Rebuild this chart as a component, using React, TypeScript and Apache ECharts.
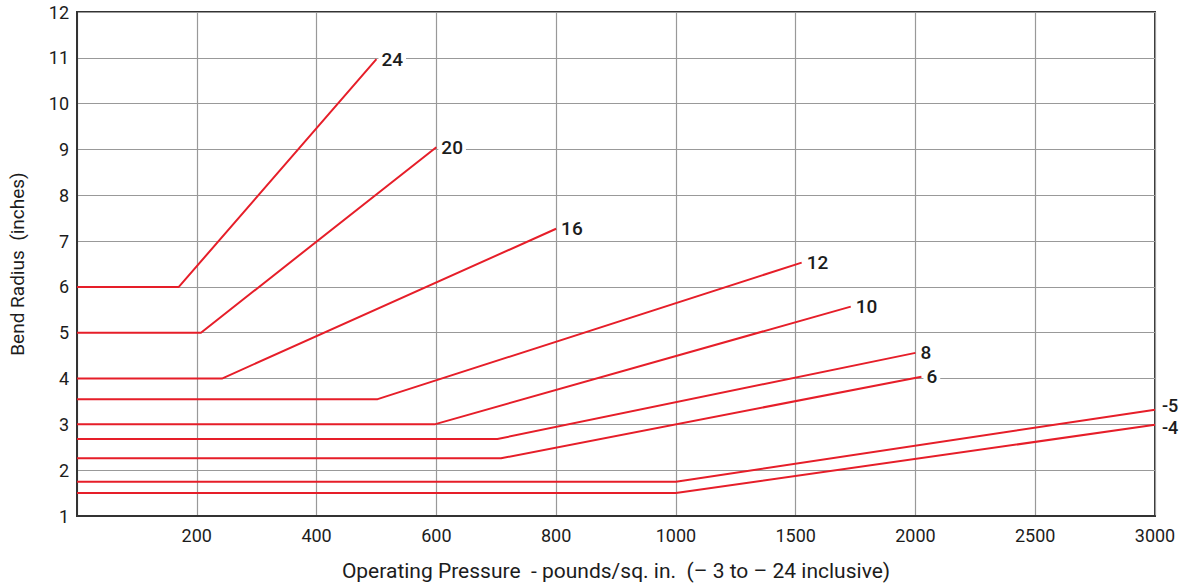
import React, { useEffect, useRef } from "react";
import * as echarts from "echarts";

const sizes = ["24", "20", "16", "12", "10", "8", "6", "-5", "-4"];
const flatRadius = [6, 5, 4, 3.55, 3, 2.68, 2.26, 1.75, 1.5];
const kneePressure = [170, 207, 242, 502, 597, 702, 708, 1000, 1000];
const endPressure = [500, 600, 800, 1525, 1730, 2000, 2025, 3000, 3000];
const endRadius = [10.97, 9.05, 7.27, 6.53, 5.57, 4.56, 4.04, 3.32, 2.99];
const xTickLabels = ["", "200", "400", "600", "800", "1000", "1500", "2000", "2500", "3000"];

// non-linear pressure scale: 0-1000 in 200 steps, then 1000-3000 in 500 steps
const pos = (p: number) => (p <= 1000 ? p / 200 : 5 + (p - 1000) / 500);

const FONT = "Roboto, 'Liberation Sans', sans-serif";
const RED = "#e61e29";
const TEXT = "#1c1c1c";

export default function App() {
  const ref = useRef<HTMLDivElement>(null);
  useEffect(() => {
    if (!ref.current) return;
    const chart = echarts.init(ref.current, null, { renderer: "svg" });
    const series = sizes.map((s, i) => {
      const outside = s === "-5" || s === "-4";
      return {
        type: "line",
        name: s,
        data: [
          [0, flatRadius[i]],
          [pos(kneePressure[i]), flatRadius[i]],
          [pos(endPressure[i]), endRadius[i]],
        ],
        symbol: "none",
        clip: false,
        lineStyle: { color: RED, width: 2 },
        itemStyle: { color: RED },
        endLabel: {
          show: true,
          formatter: s,
          distance: outside ? 5 : 2,
          offset: [0, s === "-5" ? -4 : s === "-4" ? 3 : 0],
          color: TEXT,
          fontFamily: FONT,
          fontSize: outside ? 18 : 19,
          fontWeight: 500,
          lineHeight: outside ? 14 : 16,
          backgroundColor: outside ? "transparent" : "#fff",
          padding: outside ? [0, 2] : [4, 3],
        },
        z: 3,
      };
    });
    chart.setOption({
      animation: false,
      backgroundColor: "#fff",
      grid: {
        left: 77,
        top: 12,
        right: 40,
        bottom: 72,
        show: true,
        borderColor: "#333",
        borderWidth: 2,
        containLabel: false,
        outerBoundsMode: "none",
      },
      xAxis: {
        type: "value",
        min: 0,
        max: 9,
        interval: 1,
        name: "Operating Pressure  - pounds/sq. in.  (\u2013 3 to \u2013 24 inclusive)",
        nameLocation: "middle",
        nameGap: 44,
        nameTextStyle: { fontFamily: FONT, fontSize: 21, color: TEXT },
        axisLine: { show: true, lineStyle: { color: "#333", width: 2 } },
        axisTick: { show: false },
        axisLabel: {
          formatter: (v: number) => xTickLabels[Math.round(v)] ?? "",
          fontFamily: FONT,
          fontSize: 18,
          color: TEXT,
          margin: 10,
        },
        splitLine: { show: true, lineStyle: { color: "#999", width: 1.2 } },
      },
      yAxis: {
        type: "value",
        min: 1,
        max: 12,
        interval: 1,
        name: "Bend Radius  (inches)",
        nameLocation: "middle",
        nameGap: 50,
        nameTextStyle: { fontFamily: FONT, fontSize: 19, color: TEXT },
        axisLine: { show: true, lineStyle: { color: "#333", width: 2 } },
        axisTick: { show: false },
        axisLabel: {
          fontFamily: FONT,
          fontSize: 18,
          color: TEXT,
          margin: 8,
        },
        splitLine: { show: true, lineStyle: { color: "#999", width: 1.2 } },
      },
      series,
    });
    return () => chart.dispose();
  }, []);
  return (
    <div
      ref={ref}
      style={{ position: "fixed", left: 0, top: 0, width: 1195, height: 588, background: "#fff" }}
    />
  );
}
